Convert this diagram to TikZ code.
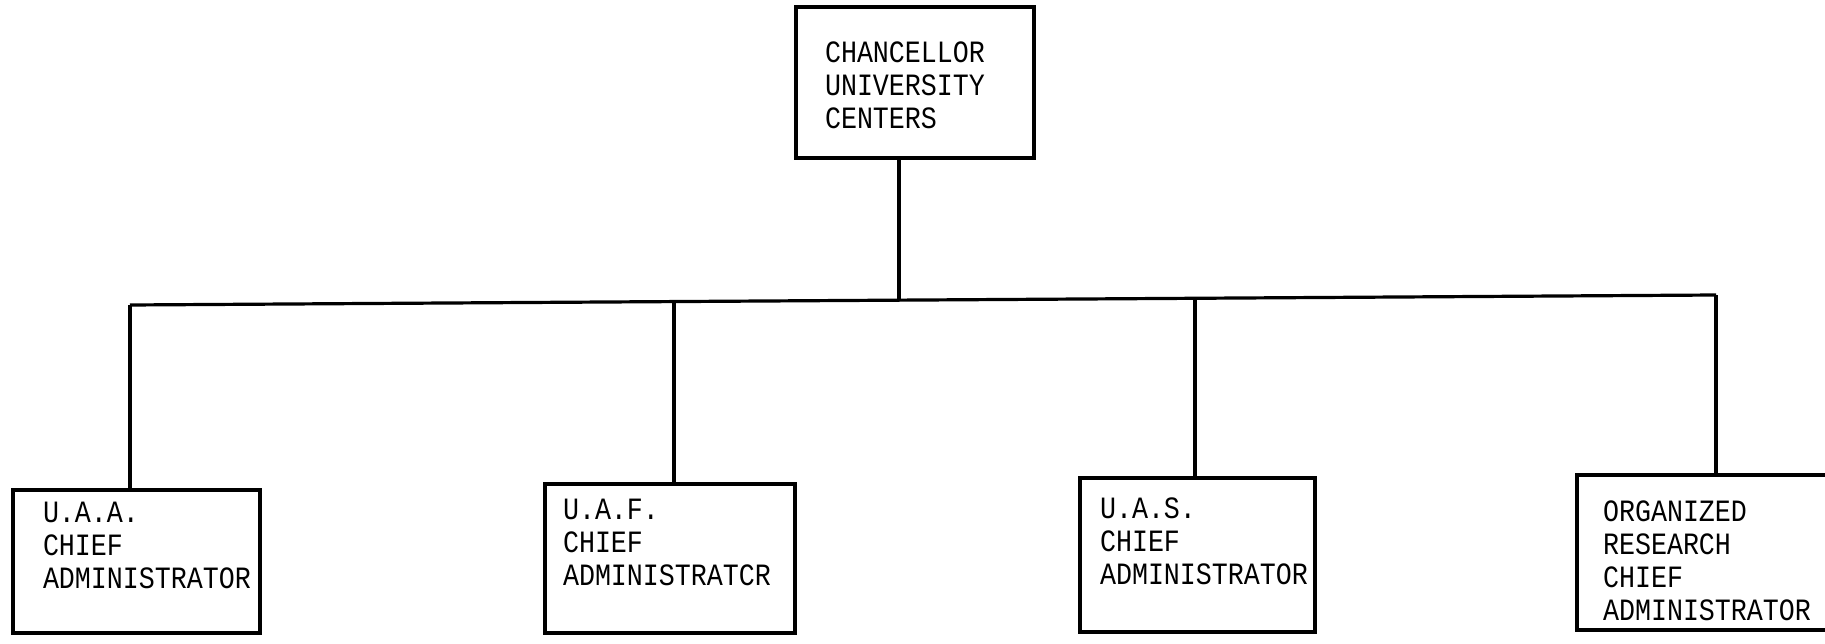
\documentclass[tikz,border=0pt]{standalone}
\usepackage{fontspec}
\usepackage{tikz}
\newfontfamily\typed[FakeStretch=0.86]{Liberation Mono}
\tikzset{
  orgunit/.style={
    draw,
    line width=3.2pt,
    align=left,
    inner sep=0pt,
    font=\typed\fontsize{31}{33}\selectfont
  },
  orgwire/.style={line width=3.2pt}
}

\begin{document}
\begin{tikzpicture}[x=1pt,y=-1pt]
  \useasboundingbox (0,0) rectangle (1825,644);

  \node[orgunit,minimum width=238,minimum height=151,text width=180] (chan) at (915,82.5)
    {\rule{0pt}{26pt}CHANCELLOR\\UNIVERSITY\\CENTERS};

  \node[orgunit,minimum width=247,minimum height=143,text width=187] (uaa) at (136.5,561.5)
    {U.A.A.\\CHIEF\\ADMINISTRATOR\\\mbox{}};
  \node[orgunit,minimum width=250,minimum height=149,text width=214] (uaf) at (670,558.5)
    {U.A.F.\\CHIEF\\ADMINISTRATCR\\\mbox{}};
  \node[orgunit,minimum width=235,minimum height=154,text width=195] (uas) at (1197.5,555)
    {\rule{0pt}{26pt}U.A.S.\\CHIEF\\ADMINISTRATOR\\\mbox{}};
  \node[orgunit,minimum width=263,minimum height=155,text width=211] (orgres) at (1708.5,552.5)
    {\rule{0pt}{38pt}ORGANIZED\\RESEARCH\\CHIEF\\ADMINISTRATOR};

  \coordinate (hub) at (899,301);
  \coordinate (tapuaa) at (130,305);
  \coordinate (tapuaf) at (674,302);
  \coordinate (tapuas) at (1195,298);
  \coordinate (tapres) at (1716,295);

  \draw[orgwire] (chan.south -| hub) -- (hub);
  \draw[orgwire] (tapuaa) -- (tapres);
  \draw[orgwire] (tapuaa) -- (tapuaa |- uaa.north);
  \draw[orgwire] (tapuaf) -- (tapuaf |- uaf.north);
  \draw[orgwire] (tapuas) -- (tapuas |- uas.north);
  \draw[orgwire] (tapres) -- (tapres |- orgres.north);
\end{tikzpicture}
\end{document}
